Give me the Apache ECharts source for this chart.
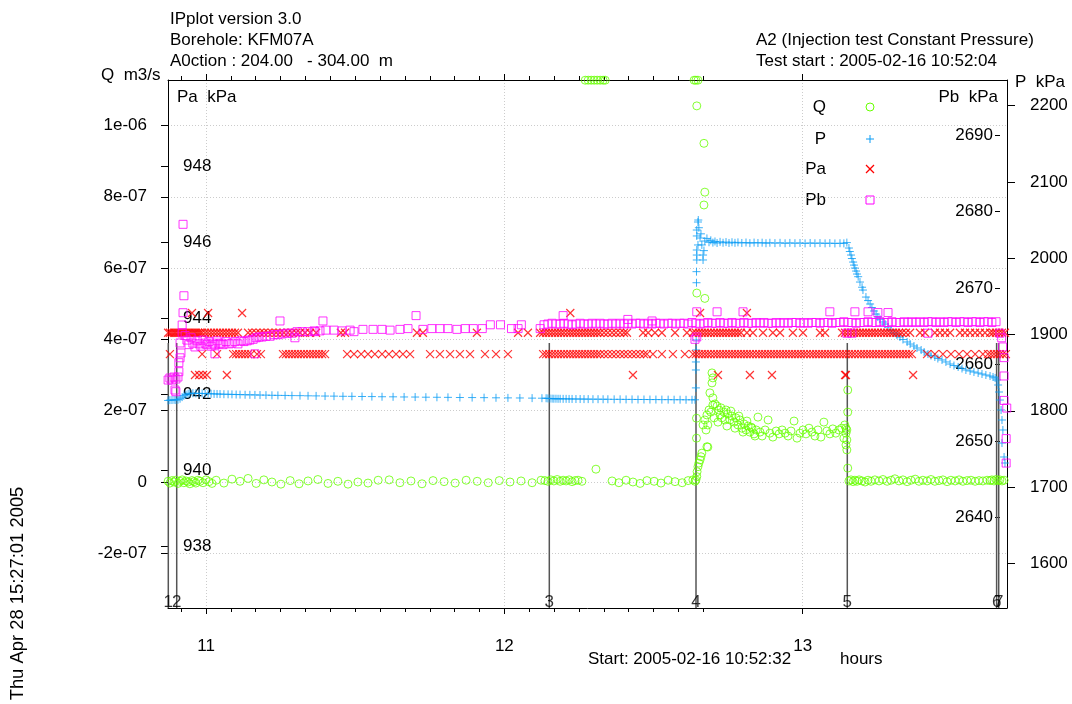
<!DOCTYPE html>
<html><head><meta charset="utf-8">
<script src="https://cdn.jsdelivr.net/npm/echarts@6/dist/echarts.min.js"></script>
<style>html,body{margin:0;padding:0;background:#fff}#c{width:1072px;height:704px}</style>
</head><body><div id="c"></div>
<script>
// ---------------- DATA (time in clock hours) ----------------
const hourTicks = [11, 12, 13];
const hourLabels = ['11', '12', '13'];
const qTicks = [-2e-7, 0, 2e-7, 4e-7, 6e-7, 8e-7, 1e-6];
const qTickLabels = ['-2e-07', '0', '2e-07', '4e-07', '6e-07', '8e-07', '1e-06'];
const paTicks = [938, 940, 942, 944, 946, 948];
const pTicks = [1600, 1700, 1800, 1900, 2000, 2100, 2200];
const pbTicks = [2640, 2650, 2660, 2670, 2680, 2690];

const phaseTimes = [10.8736, 10.9018, 12.1507, 12.6424, 13.1495, 13.650, 13.657];
const phaseNames = ['1', '2', '3', '4', '5', '6', '7'];

// Q  (m3/s)
const qData = [
[10.873,0.02e-7],[10.879,-0.03e-7],[10.886,0.04e-7],[10.893,0],[10.899,0.05e-7],[10.906,-0.04e-7],[10.913,0.02e-7],[10.920,0.06e-7],[10.926,-0.02e-7],[10.933,0.03e-7],[10.940,0],[10.946,-0.05e-7],[10.953,0.04e-7],[10.960,0.01e-7],[10.966,-0.03e-7],[10.973,0.05e-7],[10.980,0.02e-7],[10.990,-0.02e-7],[11.000,0.06e-7],[11.010,0.01e-7],[11.020,-0.04e-7],
[11.034,0.05e-7],[11.060,-0.03e-7],[11.087,0.08e-7],[11.114,0.02e-7],[11.141,0.10e-7],[11.168,-0.04e-7],[11.194,0.06e-7],[11.221,0],[11.251,-0.06e-7],[11.282,0.04e-7],[11.312,-0.05e-7],[11.342,0.03e-7],[11.375,0.07e-7],[11.409,-0.04e-7],[11.442,0.02e-7],[11.476,-0.06e-7],[11.509,0],[11.543,-0.03e-7],[11.577,0.05e-7],[11.614,0.06e-7],[11.650,-0.02e-7],[11.687,0.03e-7],[11.724,-0.05e-7],[11.761,0.04e-7],[11.798,0.01e-7],[11.835,-0.03e-7],[11.872,0.05e-7],[11.909,0.02e-7],[11.946,-0.02e-7],[11.983,0.04e-7],[12.019,0],[12.056,0.03e-7],[12.093,-0.02e-7],[12.123,0.05e-7],
[12.136,0.04e-7],[12.146,0.02e-7],[12.156,0.06e-7],[12.166,0.03e-7],[12.177,0.07e-7],[12.187,0.02e-7],[12.197,0.05e-7],[12.207,0.03e-7],[12.217,0.06e-7],[12.227,0.01e-7],[12.237,0.04e-7],[12.247,0.05e-7],[12.260,0.02e-7],
[12.271,11.27e-7],[12.281,11.27e-7],[12.291,11.27e-7],[12.301,11.27e-7],[12.311,11.27e-7],[12.321,11.27e-7],[12.331,11.27e-7],[12.338,11.27e-7],
[12.307,0.36e-7],
[12.361,0.03e-7],[12.384,-0.02e-7],[12.408,0.05e-7],[12.431,0],[12.455,-0.04e-7],[12.478,0.04e-7],[12.502,0.02e-7],[12.525,-0.03e-7],[12.549,0.05e-7],[12.572,0.01e-7],[12.596,-0.02e-7],[12.616,0.04e-7],[12.632,0.06e-7],
[12.639,0.02e-7],[12.642,0.06e-7],[12.645,0.15e-7],[12.646,0.29e-7],[12.649,0.43e-7],[12.652,0.53e-7],[12.656,0.62e-7],[12.659,0.71e-7],[12.662,0.81e-7],[12.679,0.99e-7],[12.682,0.98e-7],[12.676,1.46e-7],[12.644,1.23e-7],[12.644,1.79e-7],
[12.636,11.27e-7],[12.642,11.27e-7],[12.649,11.27e-7],[12.645,10.55e-7],[12.669,9.50e-7],[12.672,8.13e-7],[12.669,7.77e-7],[12.645,5.30e-7],[12.672,5.15e-7],
[12.696,3.06e-7],[12.699,2.92e-7],[12.696,2.78e-7],[12.689,2.50e-7],[12.699,2.36e-7],
[12.666,1.60e-7],[12.672,1.74e-7],[12.679,1.88e-7],[12.686,2.02e-7],[12.692,1.96e-7],[12.699,2.16e-7],[12.706,2.19e-7],[12.713,2.13e-7],[12.719,2.02e-7],[12.723,1.88e-7],[12.729,1.80e-7],[12.736,1.96e-7],[12.743,2.02e-7],[12.749,1.91e-7],[12.756,1.74e-7],[12.763,1.85e-7],[12.770,1.68e-7],[12.776,1.80e-7],[12.783,1.60e-7],[12.790,1.74e-7],[12.796,1.51e-7],[12.803,1.63e-7],[12.810,1.46e-7],[12.817,1.57e-7],[12.823,1.40e-7],[12.830,1.51e-7],[12.837,1.35e-7],[12.844,1.46e-7],[12.850,1.82e-7],[12.857,1.40e-7],[12.864,1.29e-7],[12.874,1.46e-7],[12.884,1.74e-7],[12.890,1.37e-7],[12.900,1.26e-7],[12.911,1.43e-7],[12.921,1.35e-7],[12.931,1.46e-7],[12.941,1.37e-7],[12.951,1.29e-7],[12.961,1.43e-7],[12.971,1.71e-7],[12.981,1.23e-7],[12.991,1.37e-7],[13.001,1.46e-7],[13.011,1.35e-7],[13.021,1.51e-7],[13.031,1.40e-7],[13.041,1.29e-7],[13.051,1.46e-7],[13.061,1.26e-7],[13.071,1.68e-7],[13.081,1.43e-7],[13.091,1.35e-7],[13.101,1.49e-7],[13.111,1.37e-7],[13.121,1.46e-7],[13.131,1.51e-7],
[12.682,1.60e-7],[12.703,1.80e-7],[12.716,1.68e-7],[12.726,2.08e-7],[12.739,1.74e-7],[12.746,1.57e-7],[12.759,1.99e-7],[12.773,1.51e-7],[12.786,1.85e-7],[12.800,1.40e-7],[12.813,1.71e-7],[12.827,1.54e-7],[12.840,1.29e-7],
[13.138,1.23e-7],[13.141,1.60e-7],[13.145,1.51e-7],[13.145,1.37e-7],[13.145,1.04e-7],[13.148,1.46e-7],[13.148,1.18e-7],[13.148,0.90e-7],[13.151,2.58e-7],[13.151,1.96e-7],[13.151,0.39e-7],
[13.155,0.03e-7],[13.162,0.06e-7],[13.169,0.01e-7],[13.175,0.05e-7],[13.182,0.02e-7],[13.189,0.06e-7],[13.199,0.03e-7],[13.209,0],[13.219,0.05e-7],[13.229,0.02e-7],[13.242,0.06e-7],[13.256,0.03e-7],[13.269,0.07e-7],[13.283,0.02e-7],[13.296,0.05e-7],[13.309,0.09e-7],[13.323,0.03e-7],[13.336,0.06e-7],[13.350,0.01e-7],[13.363,0.05e-7],[13.377,0.08e-7],[13.390,0.02e-7],[13.403,0.05e-7],[13.417,0.03e-7],[13.430,0.07e-7],[13.443,0.02e-7],[13.457,0.04e-7],[13.470,0.06e-7],[13.484,0.01e-7],[13.497,0.05e-7],[13.511,0.03e-7],[13.524,0.06e-7],[13.537,0.02e-7],[13.551,0.04e-7],[13.564,0.05e-7],[13.578,0.02e-7],[13.591,0.04e-7],[13.604,0.03e-7],[13.618,0.05e-7],[13.628,0.04e-7],[13.634,0.06e-7],[13.641,0.03e-7],[13.648,0.07e-7],[13.655,0.04e-7],[13.661,0.06e-7],[13.668,0.03e-7],[13.675,0.05e-7]
];

// P  (kPa)
const pData = [
[10.873,1813.5],[10.879,1814.0],[10.886,1814.1],[10.893,1814.3],[10.899,1814.1],[10.906,1814.5],[10.913,1815.8],[10.920,1817.9],[10.926,1819.8],[10.933,1821.2],[10.940,1822.3],[10.946,1822.9],[10.956,1823.0],[10.966,1822.8],[10.977,1822.9],[10.987,1822.7],[10.997,1822.5],[11.007,1822.4],[11.017,1822.3],[11.027,1822.1],[11.037,1822.0],[11.047,1821.9],[11.060,1821.7],[11.074,1821.6],[11.087,1821.5],[11.101,1821.3],[11.114,1821.2],[11.131,1821.0],[11.147,1820.9],[11.164,1820.8],[11.181,1820.6],[11.201,1820.5],[11.221,1820.3],[11.241,1820.2],[11.265,1820.1],[11.288,1819.9],[11.315,1819.8],[11.342,1819.6],[11.369,1819.5],[11.399,1819.3],[11.429,1819.2],[11.459,1819.0],[11.489,1818.9],[11.523,1818.7],[11.556,1818.6],[11.590,1818.4],[11.627,1818.3],[11.664,1818.1],[11.701,1818.0],[11.737,1817.8],[11.774,1817.7],[11.811,1817.6],[11.851,1817.4],[11.892,1817.3],[11.932,1817.2],[11.972,1817.0],[12.012,1816.9],[12.052,1816.8],[12.093,1816.6],[12.126,1816.5],[12.140,1816.4],
[12.146,1816.2],[12.153,1816.0],[12.160,1815.9],[12.166,1815.8],[12.173,1815.8],[12.180,1815.7],[12.187,1815.7],[12.197,1815.6],[12.207,1815.6],[12.217,1815.5],[12.227,1815.5],[12.240,1815.4],[12.254,1815.4],[12.267,1815.3],[12.281,1815.3],[12.297,1815.2],[12.314,1815.2],[12.331,1815.1],[12.347,1815.1],[12.368,1815.0],[12.388,1815.0],[12.408,1814.9],[12.428,1814.9],[12.448,1814.8],[12.468,1814.8],[12.488,1814.7],[12.508,1814.7],[12.528,1814.6],[12.549,1814.6],[12.569,1814.5],[12.589,1814.5],[12.609,1814.4],[12.629,1814.4],[12.639,1814.4],
[12.642,1830.0],[12.642,1853.5],[12.642,1864.0],[12.643,1879.7],[12.643,1892.8],[12.644,1967.9],[12.644,1982.4],[12.645,1997.7],[12.645,2004.2],[12.645,2010.8],[12.649,2017.4],[12.645,2029.2],[12.645,2037.0],[12.649,2047.5],[12.650,2050.1],[12.652,2040.0],[12.656,2026.5],[12.659,2032.0],[12.662,2017.4],[12.666,2004.2],[12.666,1997.7],[12.669,2010.0],[12.672,2022.6],[12.679,2026.0],[12.686,2021.0],[12.692,2023.5],[12.699,2020.5],[12.706,2022.0],[12.713,2020.0],[12.723,2021.5],[12.733,2020.3],[12.743,2021.2],[12.753,2020.0],[12.763,2021.0],[12.773,2020.2],[12.783,2020.8],[12.796,2020.0],[12.810,2020.6],[12.823,2019.8],[12.837,2020.5],[12.850,2020.0],[12.864,2020.4],[12.877,2019.7],[12.890,2020.3],[12.907,2019.8],[12.924,2020.2],[12.941,2019.6],[12.957,2020.1],[12.974,2019.7],[12.991,2020.0],[13.008,2019.5],[13.025,2020.0],[13.041,2019.6],[13.058,2019.9],[13.075,2019.5],[13.091,2019.8],[13.108,2019.4],[13.125,2019.7],[13.138,2019.5],[13.148,2020.5],
[13.155,2013.4],[13.158,2008.8],[13.162,2004.2],[13.165,1999.6],[13.169,1995.0],[13.172,1991.0],[13.175,1987.1],[13.179,1983.2],[13.182,1979.3],[13.186,1975.8],[13.192,1968.8],[13.199,1962.0],[13.202,1958.3],[13.212,1949.1],[13.219,1944.5],[13.226,1940.0],[13.232,1935.4],[13.239,1930.8],[13.246,1926.8],[13.252,1922.9],[13.259,1920.0],[13.269,1916.4],[13.276,1913.7],[13.286,1909.8],[13.296,1905.9],[13.306,1902.0],[13.316,1899.3],[13.326,1896.7],[13.336,1893.4],[13.350,1890.2],[13.360,1887.5],[13.373,1884.9],[13.383,1882.3],[13.397,1879.7],[13.407,1877.0],[13.420,1874.4],[13.430,1872.4],[13.443,1870.5],[13.453,1868.5],[13.467,1866.6],[13.480,1864.0],[13.494,1861.3],[13.507,1859.3],[13.521,1857.4],[13.534,1855.4],[13.547,1853.5],[13.561,1852.2],[13.574,1850.8],[13.588,1849.5],[13.601,1848.2],[13.614,1846.9],[13.628,1845.6],[13.638,1844.3],[13.645,1843.0],[13.651,1840.4],[13.655,1833.8],[13.658,1824.6],[13.661,1814.1],[13.665,1801.0],[13.668,1787.9],[13.671,1774.8],[13.668,1757.7],[13.675,1739.4],[13.678,1731.5]
];

// Pa (kPa): read as four recording levels, with the times at which each level occurs
const paLevels = [944.14, 943.62, 943.06, 942.51];
const paTimesA = [10.953, 11.007, 11.121, 12.221, 12.656, 12.813];
const paTimesB = [10.873,10.879,10.886,10.893,10.899,10.906,10.913,10.920,10.926,10.933,10.940,10.946,10.953,10.960,10.966,10.973,10.980,10.987,10.997,11.007,11.017,11.027,11.037,11.047,11.057,11.067,11.077,11.087,11.097,11.107,
11.141,11.154,11.168,11.181,11.194,11.208,11.221,11.235,11.248,11.261,11.275,11.288,11.302,11.315,11.332,11.349,11.369,11.452,11.466,11.707,11.727,11.908,12.046,12.079,12.120,
12.130,12.140,12.150,12.160,12.170,12.180,12.190,12.200,12.211,12.221,12.231,12.241,12.251,12.261,12.271,12.281,12.291,12.301,12.311,12.321,12.334,12.347,12.361,12.374,12.388,12.401,12.411,
12.465,12.482,12.505,12.528,12.572,12.612,
12.632,12.642,12.652,12.662,12.672,12.682,12.692,12.703,12.713,12.723,12.733,12.743,12.753,12.763,12.773,12.783,12.793,
12.813,12.833,12.867,12.900,12.924,12.967,13.001,13.058,13.075,
13.132,13.142,13.152,13.162,13.172,13.182,13.192,13.202,13.212,13.222,13.232,13.242,13.252,13.263,13.273,13.283,13.293,13.303,13.313,13.323,13.333,13.346,13.360,
13.393,13.410,13.443,13.460,13.477,13.494,13.527,13.544,13.561,13.578,13.594,13.611,13.628,13.638,13.648,13.658,13.668,13.678];
const paTimesC = [10.879,10.987,11.037,11.091,11.101,11.111,11.121,11.131,11.141,11.151,11.171,11.184,11.258,11.268,11.278,11.288,11.298,11.308,11.318,11.328,11.339,11.349,11.359,11.369,11.379,11.389,11.399,
11.473,11.496,11.520,11.543,11.566,11.590,11.613,11.637,11.660,11.684,11.751,11.784,11.818,11.851,11.885,11.935,11.972,12.012,
12.130,12.140,12.150,12.160,12.170,12.180,12.190,12.200,12.211,12.221,12.231,12.241,12.251,12.261,12.271,12.281,12.291,12.301,12.311,12.321,12.334,12.347,12.361,12.374,12.388,12.401,12.414,12.428,12.441,12.455,12.468,12.478,
12.498,12.528,12.565,12.605,
12.632,12.642,12.652,12.662,12.672,12.682,12.692,12.703,12.713,12.723,12.733,12.743,12.753,12.763,12.773,12.783,12.793,12.803,12.813,12.823,12.833,12.844,12.854,12.864,12.874,12.884,12.894,12.904,12.914,12.924,12.934,12.944,12.954,12.964,12.974,12.984,12.994,13.004,13.014,13.025,13.035,13.045,13.055,13.065,13.075,13.085,13.095,13.105,13.115,13.125,13.135,13.145,13.155,13.165,13.175,13.186,13.196,13.206,13.216,13.226,13.236,13.246,13.256,13.266,13.276,13.286,13.296,13.306,13.316,13.326,13.336,13.346,13.356,13.366,
13.417,13.443,13.470,13.497,13.524,13.551,13.578,13.604,
13.621,13.631,13.641,13.651,13.661,13.671,13.681];
const paTimesD = [10.963, 10.977, 10.990, 11.003, 11.070, 12.431, 12.716, 12.823, 12.897, 13.142, 13.145, 13.370];

// Pb (kPa)
const pbData = [
[10.873,2657.97],[10.879,2658.23],[10.886,2657.97],[10.893,2658.36],[10.899,2658.10],[10.896,2656.66],[10.899,2656.44],[10.906,2658.36],[10.909,2659.06],[10.909,2660.24],[10.913,2660.88],[10.916,2661.51],[10.913,2662.82],[10.920,2664.13],[10.920,2665.17],[10.923,2666.78],[10.926,2669.0],[10.923,2678.35],
[10.930,2663.8],[10.936,2663.2],[10.943,2662.6],[10.950,2663.5],[10.956,2662.8],[10.963,2662.3],[10.970,2663.1],[10.977,2662.7],[10.983,2662.4],[10.990,2663.2],[10.997,2662.8],[11.003,2662.6],[11.010,2663.0],[11.017,2662.4],[11.023,2662.8],[11.030,2662.6],[11.037,2663.1],[11.044,2662.7],[11.050,2662.8],[11.057,2662.6],[11.067,2663.0],[11.077,2662.7],[11.087,2662.8],[11.097,2663.0],[11.107,2662.7],[11.117,2663.1],[11.127,2663.0],[11.138,2663.1],[11.147,2663.2],[11.158,2663.3],[11.168,2663.5],[11.178,2663.6],[11.188,2663.6],[11.201,2663.7],[11.215,2663.7],[11.228,2663.9],[11.241,2663.9],[11.255,2664.0],[11.271,2664.1],[11.288,2664.1],[11.305,2664.3],[11.322,2664.3],[11.342,2664.3],[11.362,2664.4],[11.382,2664.4],
[11.030,2661.4],[11.164,2661.4],[11.248,2665.7],[11.298,2663.5],[11.365,2664.3],[11.392,2665.7],[11.496,2664.3],[11.704,2666.4],[11.953,2665.2],[11.987,2665.2],[12.057,2665.2],
[11.402,2664.5],[11.429,2664.5],[11.456,2664.4],[11.483,2664.5],[11.526,2664.6],[11.560,2664.6],[11.590,2664.6],[11.617,2664.5],[11.650,2664.6],[11.677,2664.7],[11.727,2664.6],[11.757,2664.7],[11.784,2664.7],[11.811,2664.7],[11.841,2664.6],[11.869,2664.7],[11.896,2664.7],[11.926,2664.7],[12.024,2664.7],[12.046,2664.7],[12.120,2664.7],
[12.197,2666.4],[12.414,2665.9],[12.495,2665.7],[12.645,2666.9],[12.645,2663.6],[12.639,2663.3],[12.713,2666.9],[12.800,2666.9],[13.091,2666.9],[13.175,2666.9],[13.219,2666.9],[13.252,2666.8],[13.286,2666.8],[13.148,2664.1],[13.165,2664.1],[13.420,2664.1],
[13.661,2664.1],[13.667,2663.5],[13.670,2662.3],[13.675,2660.9],[13.675,2658.5],[13.675,2655.3],[13.684,2654.3],[13.682,2650.3],[13.682,2647.1]
];
const pbBandTimes = [12.133,12.146,12.160,12.173,12.187,12.200,12.214,12.227,12.240,12.254,12.267,12.281,12.294,12.307,12.321,12.334,12.347,12.361,12.374,12.388,12.401,12.414,12.428,12.441,12.455,12.468,12.482,12.495,12.508,12.522,12.535,12.549,12.562,12.575,12.589,12.602,12.616,12.629,12.642,12.656,12.669,12.682,12.696,12.709,12.723,12.736,12.750,12.763,12.776,12.790,12.803,12.817,12.830,12.844,12.857,12.870,12.884,12.897,12.911,12.924,12.937,12.951,12.964,12.978,12.991,13.004,13.018,13.031,13.045,13.058,13.071,13.085,13.098,13.111,13.125,13.138,13.152,13.165,13.179,13.192,13.206,13.219,13.232,13.246,13.259,13.273,13.286,13.299,13.313,13.326,13.340,13.353,13.366,13.380,13.393,13.407,13.420,13.433,13.447,13.460,13.474,13.487,13.500,13.514,13.527,13.541,13.554,13.568,13.581,13.594,13.608,13.621,13.634,13.648];
const pbBandValues = [2665.2,2665.3,2665.4,2665.3,2665.3,2665.4,2665.3,2665.2,2665.3,2665.4,
2665.3,2665.3,2665.4,2665.3,2665.4,2665.3,2665.3,2665.4,2665.3,2665.4,
2665.3,2665.4,2665.3,2665.4,2665.4,2665.3,2665.4,2665.3,2665.4,2665.4,
2665.3,2665.4,2665.4,2665.3,2665.4,2665.4,2665.3,2665.5,2665.4,2665.3,
2665.4,2665.5,2665.4,2665.4,2665.5,2665.4,2665.4,2665.5,2665.4,2665.4,
2665.5,2665.4,2665.4,2665.5,2665.4,2665.5,2665.4,2665.4,2665.5,2665.4,
2665.5,2665.4,2665.5,2665.5,2665.4,2665.5,2665.4,2665.5,2665.5,2665.4,
2665.5,2665.5,2665.4,2665.5,2665.5,2665.6,2665.5,2665.5,2665.4,2665.5,
2665.5,2665.6,2665.5,2665.5,2665.6,2665.5,2665.5,2665.6,2665.5,2665.5,
2665.6,2665.5,2665.6,2665.5,2665.6,2665.5,2665.6,2665.6,2665.5,2665.6,
2665.5,2665.6,2665.6,2665.5,2665.6,2665.6,2665.5,2665.6,2665.6,2665.5,
2665.6,2665.6,2665.5,2665.6];

// ---------------- CHART ----------------
const FONT = 'Liberation Sans';
const TXT = {fontFamily: FONT, fontSize: 17, color: '#000'};
const X_MIN = 10.8726, X_MAX = 13.6848;
const Q_MIN = -3.534e-7, Q_MAX = 1.1276e-6;
const PA_MIN = 936.39, PA_MAX = 950.26;
const P_MIN = 1541.4, P_MAX = 2233.7;
const PB_MIN = 2628.13, PB_MAX = 2697.24;
const PHASE_TOP_Q = 3.9e-7, PHASE_LABEL_Q = -3.37e-7;
const GREEN = '#66ff00', BLUE = '#0a9cf5', RED = '#ff0000', MAGENTA = '#ff00ff';

const minorTicks = [];
for (let m = 55; m <= 2 * 60 + 40; m += 5) { if (m % 60 !== 0) minorTicks.push(10 + m / 60); }

function closestLabel(vals, labels, v) {
  let bi = 0, bd = Infinity;
  vals.forEach((x, i) => { const d = Math.abs(x - v); if (d < bd) { bd = d; bi = i; } });
  return labels[bi];
}

const paData = [];
[paTimesA, paTimesB, paTimesC, paTimesD].forEach((arr, i) => arr.forEach(t => paData.push([t, paLevels[i]])));
const pbAll = pbData.concat(pbBandTimes.map((t, i) => [t, pbBandValues[i]]));

const GRIDLINE = {show: true, lineStyle: {color: '#cccccc', type: [1, 2], width: 1}};
const xBase = {type: 'value', min: X_MIN, max: X_MAX, gridIndex: 0};
const xAxes = [
  Object.assign({}, xBase, {position: 'bottom',
    axisLine: {show: true, onZero: false, lineStyle: {color: '#000', width: 1}},
    axisTick: {show: true, customValues: hourTicks, length: 6, lineStyle: {color: '#000'}},
    axisLabel: Object.assign({show: true, customValues: hourTicks, margin: 30,
      formatter: v => closestLabel(hourTicks, hourLabels, v)}, TXT),
    splitLine: GRIDLINE}),
  Object.assign({}, xBase, {position: 'bottom',
    axisLine: {show: false, onZero: false},
    axisTick: {show: true, customValues: minorTicks, length: 4, lineStyle: {color: '#000'}},
    axisLabel: {show: false}, splitLine: {show: false}}),
  Object.assign({}, xBase, {position: 'top',
    axisLine: {show: true, onZero: false, lineStyle: {color: '#000', width: 1}},
    axisTick: {show: true, customValues: hourTicks, length: 6, lineStyle: {color: '#000'}},
    axisLabel: {show: false}, splitLine: {show: false}}),
  Object.assign({}, xBase, {position: 'top',
    axisLine: {show: false, onZero: false},
    axisTick: {show: true, customValues: minorTicks, length: 4, lineStyle: {color: '#000'}},
    axisLabel: {show: false}, splitLine: {show: false}})
];

const yAxes = [
  {type: 'value', position: 'left', min: Q_MIN, max: Q_MAX,
    axisLine: {show: true, onZero: false, lineStyle: {color: '#000'}},
    axisTick: {show: true, customValues: qTicks, length: 7, lineStyle: {color: '#000'}},
    axisLabel: Object.assign({show: true, customValues: qTicks, margin: 21,
      formatter: v => closestLabel(qTicks, qTickLabels, v)}, TXT),
    splitLine: GRIDLINE},
  {type: 'value', position: 'left', min: PA_MIN, max: PA_MAX,
    axisLine: {show: false, onZero: false},
    axisTick: {show: true, customValues: paTicks, length: 7, lineStyle: {color: '#000'}},
    axisLabel: Object.assign({show: true, inside: true, customValues: paTicks, margin: 15,
      formatter: v => String(Math.round(v))}, TXT),
    splitLine: {show: false}},
  {type: 'value', position: 'right', min: P_MIN, max: P_MAX,
    axisLine: {show: true, onZero: false, lineStyle: {color: '#000'}},
    axisTick: {show: true, customValues: pTicks, length: 8, lineStyle: {color: '#000'}},
    axisLabel: Object.assign({show: true, customValues: pTicks, margin: 23,
      formatter: v => String(Math.round(v))}, TXT),
    splitLine: {show: false}},
  {type: 'value', position: 'right', offset: -7, min: PB_MIN, max: PB_MAX,
    axisLine: {show: false, onZero: false},
    axisTick: {show: true, inside: true, customValues: pbTicks, length: 5, lineStyle: {color: '#000'}},
    axisLabel: Object.assign({show: true, inside: true, customValues: pbTicks, margin: 7,
      formatter: v => String(Math.round(v))}, TXT),
    splitLine: {show: false}}
];

const series = [];
phaseTimes.forEach(t => {
  series.push({type: 'line', xAxisIndex: 0, yAxisIndex: 0, data: [[t, PHASE_TOP_Q], [t, Q_MIN]],
    symbol: 'none', silent: true, animation: false, clip: false,
    lineStyle: {color: '#555555', width: 1.5}, z: 1});
});
series.push({type: 'scatter', xAxisIndex: 0, yAxisIndex: 0,
  data: phaseTimes.map((t, i) => ({value: [t, PHASE_LABEL_Q], name: phaseNames[i]})),
  symbolSize: 1, itemStyle: {color: 'rgba(0,0,0,0)'}, silent: true, clip: false, z: 5,
  label: Object.assign({show: true, position: 'inside', formatter: '{b}'}, TXT)});

const common = {type: 'scatter', silent: true, clip: false, animation: false, symbolKeepAspect: true};
series.push(Object.assign({}, common, {name: 'Q', xAxisIndex: 0, yAxisIndex: 0, data: qData,
  symbol: 'circle', symbolSize: 8,
  itemStyle: {color: 'rgba(0,0,0,0)', borderColor: GREEN, borderWidth: 1}, z: 3}));
series.push(Object.assign({}, common, {name: 'P', xAxisIndex: 0, yAxisIndex: 2, data: pData,
  symbol: 'path://M4,0L4,8M0,4L8,4', symbolSize: 8,
  itemStyle: {color: 'rgba(0,0,0,0)', borderColor: BLUE, borderWidth: 1}, z: 3}));
series.push(Object.assign({}, common, {name: 'Pa', xAxisIndex: 0, yAxisIndex: 1, data: paData,
  symbol: 'path://M0,0L8,8M8,0L0,8', symbolSize: 8,
  itemStyle: {color: 'rgba(0,0,0,0)', borderColor: RED, borderWidth: 1.2}, z: 3}));
series.push(Object.assign({}, common, {name: 'Pb', xAxisIndex: 0, yAxisIndex: 3, data: pbAll,
  symbol: 'rect', symbolSize: 8,
  itemStyle: {color: 'rgba(0,0,0,0)', borderColor: MAGENTA, borderWidth: 1}, z: 3}));

function txt(text, x, y, align, extra, size) {
  return Object.assign({type: 'text', x: x, y: y, silent: true,
    style: {text: text, font: (size || 17) + 'px ' + FONT, fill: '#000', align: align, textAlign: align,
      verticalAlign: 'middle', textVerticalAlign: 'middle'}}, extra || {});
}
const legendNames = ['Q', 'P', 'Pa', 'Pb'];
const legendY = [107, 139, 169, 200];
const graphics = [
  txt('IPplot version 3.0', 170, 19, 'left'),
  txt('Borehole: KFM07A', 170, 40, 'left'),
  txt('A0ction : 204.00   - 304.00  m', 170, 61, 'left'),
  txt('Q  m3/s', 101, 75.5, 'left'),
  txt('Pa  kPa', 177, 97, 'left'),
  txt('A2 (Injection test Constant Pressure)', 756, 40, 'left'),
  txt('Test start : 2005-02-16 10:52:04', 756, 61, 'left'),
  txt('P  kPa', 1015, 82, 'left'),
  txt('Pb  kPa', 998, 97.5, 'right'),
  txt('Start: 2005-02-16 10:52:32', 588, 659.5, 'left'),
  txt('hours', 840, 659.5, 'left'),
  txt('Thu Apr 28 15:27:01 2005', 18, 593.5, 'center', {rotation: Math.PI / 2}, 18.4)
];
legendNames.forEach((n, i) => graphics.push(txt(n, 826, legendY[i], 'right')));
graphics.push({type: 'circle', silent: true, shape: {cx: 870, cy: legendY[0], r: 4},
  style: {fill: 'none', stroke: GREEN, lineWidth: 1}});
graphics.push({type: 'line', silent: true, shape: {x1: 866, y1: legendY[1], x2: 874, y2: legendY[1]}, style: {stroke: BLUE, lineWidth: 1}});
graphics.push({type: 'line', silent: true, shape: {x1: 870, y1: legendY[1] - 4, x2: 870, y2: legendY[1] + 4}, style: {stroke: BLUE, lineWidth: 1}});
graphics.push({type: 'line', silent: true, shape: {x1: 866, y1: legendY[2] - 4, x2: 874, y2: legendY[2] + 4}, style: {stroke: RED, lineWidth: 1.2}});
graphics.push({type: 'line', silent: true, shape: {x1: 866, y1: legendY[2] + 4, x2: 874, y2: legendY[2] - 4}, style: {stroke: RED, lineWidth: 1.2}});
graphics.push({type: 'rect', silent: true, shape: {x: 866, y: legendY[3] - 4, width: 8, height: 8},
  style: {fill: 'none', stroke: MAGENTA, lineWidth: 1}});

const chart = echarts.init(document.getElementById('c'), null, {renderer: 'canvas'});
chart.setOption({
  animation: false,
  backgroundColor: '#ffffff',
  textStyle: {fontFamily: FONT},
  grid: {left: 168, top: 80, width: 839, height: 528, containLabel: false},
  xAxis: xAxes,
  yAxis: yAxes,
  series: series,
  graphic: graphics
});
</script></body></html>
